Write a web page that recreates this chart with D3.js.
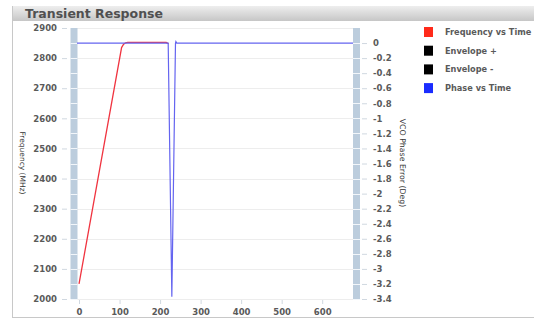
<!DOCTYPE html>
<html>
<head>
<meta charset="utf-8">
<script src="https://cdn.jsdelivr.net/npm/d3@7"></script>
<style>
body { margin: 0; background: #fff; }
text { font-family: "DejaVu Sans", Verdana, sans-serif; }
</style>
</head>
<body>
<svg></svg>
<script>
var width = 534;
var height = 320;

// Frequency vs Time (MHz)
var freqTime = [0, 105, 110, 115, 120, 215, 219, 221];
var freqValue = [2050, 2835, 2846, 2851, 2852, 2852, 2849, 2848];

// Phase vs Time (Deg)
var phaseTime = [-5, 220, 229, 238, 239, 241, 676];
var phaseValue = [0, 0, -3.37, 0, 0.02, 0, 0];

var freqTicks = [2000, 2100, 2200, 2300, 2400, 2500, 2600, 2700, 2800, 2900];
var phaseTicks = [0, -0.2, -0.4, -0.6, -0.8, -1, -1.2, -1.4, -1.6, -1.8, -2, -2.2, -2.4, -2.6, -2.8, -3, -3.2, -3.4];
var timeTicks = [0, 100, 200, 300, 400, 500, 600];

var legendNames = ["Frequency vs Time", "Envelope +", "Envelope -", "Phase vs Time"];
var legendColors = ["#ff2a1a", "#000000", "#000000", "#1a2cff"];

var svg = d3.select("svg").attr("width", width).attr("height", height);

// panel + title bar
var grad = svg.append("defs").append("linearGradient")
.attr("id", "titleGrad").attr("x1", 0).attr("y1", 0).attr("x2", 0).attr("y2", 1);
grad.append("stop").attr("offset", "0%").attr("stop-color", "#eeeeee");
grad.append("stop").attr("offset", "100%").attr("stop-color", "#c6c6c6");

svg.append("rect")
.attr("x", 12.5).attr("y", 6.5).attr("width", width).attr("height", 311)
.attr("fill", "#fff").attr("stroke", "#c8c8c8");
svg.append("rect")
.attr("x", 13).attr("y", 6).attr("width", width).attr("height", 15)
.attr("fill", "url(#titleGrad)");
svg.append("text")
.attr("x", 25).attr("y", 18)
.attr("font-size", "12.5px").attr("font-weight", "bold")
.attr("fill", "#505050")
.text("Transient Response");

var x = d3.scaleLinear().domain([-5, 676]).range([77, 353]);
var yL = d3.scaleLinear().domain([2000, 2900]).range([299, 28]);
var yR = d3.scaleLinear().domain([-3.4, 0.2]).range([299, 28]);

// grid lines
svg.append("g").selectAll("line").data(freqTicks).enter()
.append("line")
.attr("x1", 77).attr("x2", 353)
.attr("y1", function(d){ return Math.round(yL(d)) + 0.5; })
.attr("y2", function(d){ return Math.round(yL(d)) + 0.5; })
.attr("stroke", "#ededed");

// segmented side bands
function drawBand(x0){
  var band = svg.append("g");
  band.append("rect")
  .attr("x", x0).attr("y", 28).attr("width", 7).attr("height", 271)
  .attr("fill", "#bccddd");
  band.selectAll("line").data(phaseTicks).enter()
  .append("line")
  .attr("x1", x0).attr("x2", x0 + 7)
  .attr("y1", function(d){ return Math.round(yR(d)) + 0.5; })
  .attr("y2", function(d){ return Math.round(yR(d)) + 0.5; })
  .attr("stroke", "#f2f6fa");
}
drawBand(70.5);
drawBand(353);

// left axis
var leftAxis = d3.axisLeft(yL).tickValues(freqTicks).tickSize(5).tickPadding(5).tickFormat(d3.format("d"));
var gl = svg.append("g").attr("transform", "translate(67,0)").call(leftAxis);
gl.select(".domain").remove();

// right axis
var rightAxis = d3.axisRight(yR).tickValues(phaseTicks).tickSize(5).tickPadding(6).tickFormat(function(d){ return String(d); });
var gr = svg.append("g").attr("transform", "translate(362,0)").call(rightAxis);
gr.select(".domain").remove();

// bottom axis
var bottomAxis = d3.axisBottom(x).tickValues(timeTicks).tickSize(4).tickPadding(5).tickFormat(d3.format("d"));
var gb = svg.append("g").attr("transform", "translate(0,300)").call(bottomAxis);
gb.select(".domain").remove();

svg.selectAll(".tick line").attr("stroke", "#d0d8e0");
svg.selectAll(".tick text")
.attr("fill", "#5a5a5a").attr("font-size", "8.5px").attr("font-weight", "bold")
.attr("font-family", "'DejaVu Sans', Verdana, sans-serif");

// axis titles
svg.append("text")
.attr("transform", "translate(20,163) rotate(90)")
.attr("text-anchor", "middle")
.attr("font-size", "7.5px").attr("fill", "#333")
.text("Frequency (MHz)");
svg.append("text")
.attr("transform", "translate(400,163) rotate(90)")
.attr("text-anchor", "middle")
.attr("font-size", "7.8px").attr("fill", "#333")
.text("VCO Phase Error (Deg)");

// series
var freqLine = d3.line()
.x(function(d, i){ return x(freqTime[i]); })
.y(function(d){ return yL(d); });
svg.append("path")
.attr("d", freqLine(freqValue))
.attr("fill", "none").attr("stroke", "#f03440").attr("stroke-width", 1.3);

var phaseLine = d3.line()
.x(function(d, i){ return x(phaseTime[i]); })
.y(function(d){ return yR(d); });
svg.append("path")
.attr("d", phaseLine(phaseValue))
.attr("fill", "none").attr("stroke", "#6464f0").attr("stroke-width", 1.2);

// legend
var legend = svg.append("g").selectAll("g").data(legendNames).enter()
.append("g")
.attr("transform", function(d, i){ return "translate(424," + (27 + i * 18.7) + ")"; });
legend.append("rect")
.attr("width", 9).attr("height", 10)
.attr("fill", function(d, i){ return legendColors[i]; });
legend.append("text")
.attr("x", 21).attr("y", 8)
.attr("font-size", "8.2px").attr("font-weight", "bold")
.attr("fill", "#5a5a5a")
.text(function(d){ return d; });
</script>
</body>
</html>
